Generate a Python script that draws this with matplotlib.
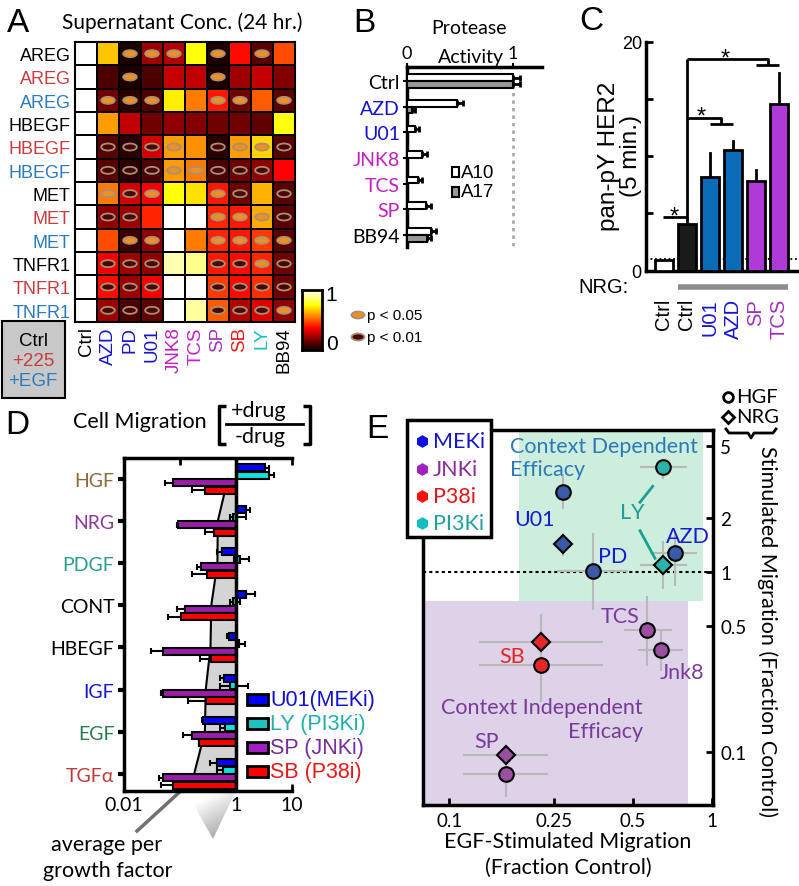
import numpy as np
import matplotlib
matplotlib.use('Agg')
import matplotlib.pyplot as plt
from matplotlib.patches import Ellipse, Rectangle, Polygon
from matplotlib.ticker import NullLocator, FixedLocator

W, H = 799, 887
ARIAL = 'Liberation Sans'
MYR = 'Lato'

# ---------------- Panel A data ----------------
A_rows = ['AREG', 'AREG', 'AREG', 'HBEGF', 'HBEGF', 'HBEGF',
          'MET', 'MET', 'MET', 'TNFR1', 'TNFR1', 'TNFR1']
A_cols = ['Ctrl', 'AZD', 'PD', 'U01', 'JNK8', 'TCS', 'SP', 'SB', 'LY', 'BB94']
A_vals = [
    [1.0, 0.66, 0.03, 0.22, 0.25, 0.75, 0.03, 0.38, 0.12, 0.48],
    [1.0, 0.10, 0.03, 0.10, 0.28, 0.27, 0.03, 0.22, 0.28, 0.18],
    [1.0, 0.15, 0.05, 0.10, 0.72, 0.55, 0.40, 0.15, 0.50, 0.12],
    [1.0, 0.60, 0.27, 0.15, 0.20, 0.18, 0.15, 0.15, 0.13, 0.76],
    [1.0, 0.12, 0.05, 0.30, 0.60, 0.58, 0.05, 0.60, 0.68, 0.12],
    [1.0, 0.12, 0.05, 0.10, 0.60, 0.55, 0.10, 0.15, 0.20, 0.37],
    [1.0, 0.55, 0.30, 0.35, 0.75, 0.70, 0.40, 0.15, 0.63, 0.12],
    [1.0, 0.20, 0.22, 0.42, 1.00, 1.00, 0.42, 0.40, 0.62, 0.12],
    [1.0, 0.48, 0.08, 0.20, 1.00, 0.55, 0.42, 0.40, 0.45, 0.12],
    [1.0, 0.35, 0.22, 0.20, 0.92, 0.88, 0.40, 0.38, 0.42, 0.15],
    [1.0, 0.38, 0.22, 0.35, 1.00, 1.00, 0.45, 0.38, 0.43, 0.15],
    [1.0, 0.22, 0.10, 0.13, 1.00, 0.90, 0.50, 0.25, 0.32, 0.20],
]
# 0: not significant, 1: p<0.05, 2: p<0.01
A_sig = [
    [0, 0, 1, 1, 1, 0, 1, 0, 1, 0],
    [0, 0, 1, 0, 0, 0, 1, 0, 0, 0],
    [0, 1, 1, 1, 0, 0, 1, 1, 0, 1],
    [0, 0, 0, 0, 0, 0, 0, 0, 0, 0],
    [0, 2, 2, 2, 1, 0, 2, 1, 1, 2],
    [0, 2, 2, 2, 1, 1, 2, 2, 2, 0],
    [0, 1, 2, 1, 0, 0, 1, 2, 0, 2],
    [0, 2, 2, 0, 0, 0, 1, 1, 1, 2],
    [0, 0, 1, 1, 0, 0, 1, 1, 1, 1],
    [0, 2, 2, 2, 0, 0, 2, 2, 1, 2],
    [0, 2, 2, 2, 0, 0, 2, 2, 2, 2],
    [0, 2, 2, 2, 0, 0, 2, 2, 2, 1],
]

# ---------------- Panel B data ----------------
B_labels = ['Ctrl', 'AZD', 'U01', 'JNK8', 'TCS', 'SP', 'BB94']
B_a10 = [1.0, 0.47, 0.08, 0.14, 0.10, 0.18, 0.23]
B_a10_err = [0.07, 0.06, 0.03, 0.05, 0.04, 0.05, 0.04]
B_a17 = [1.0, 0.05, 0.0, 0.0, 0.0, 0.0, 0.19]
B_a17_err = [0.07, 0.03, 0.0, 0.0, 0.0, 0.0, 0.04]

# ---------------- Panel C data ----------------
C_labels = ['Ctrl', 'Ctrl', 'U01', 'AZD', 'SP', 'TCS']
C_vals = [0.96, 4.1, 8.2, 10.5, 7.85, 14.6]
C_err = [0.0, 0.3, 2.1, 0.8, 0.95, 2.7]

# ---------------- Panel D data ----------------
D_gf = ['HGF', 'NRG', 'PDGF', 'CONT', 'HBEGF', 'IGF', 'EGF', 'TGFα']
D_u01 = [3.35, 1.50, 0.56, 1.50, 0.77, 0.62, 0.26, 0.457]
D_u01_lo = [3.35, 1.50, 0.457, 1.50, 0.69, 0.52, 0.246, 0.347]
D_u01_hi = [4.00, 1.76, 0.56, 2.22, 0.77, 0.62, 0.26, 0.457]
D_ly = [3.85, 0.88, 1.20, 0.90, 1.15, 0.80, 0.65, 0.60]
D_ly_lo = [3.85, 0.79, 0.94, 0.80, 1.15, 0.53, 0.52, 0.457]
D_ly_hi = [4.73, 1.55, 1.69, 1.20, 1.47, 1.67, 0.65, 0.60]
D_sp = [0.0745, 0.094, 0.24, 0.124, 0.049, 0.049, 0.163, 0.050]
D_sp_lo = [0.054, 0.090, 0.20, 0.088, 0.030, 0.045, 0.112, 0.043]
D_sb = [0.28, 0.415, 0.30, 0.105, 0.356, 0.29, 0.223, 0.0766]
D_sb_lo = [0.167, 0.28, 0.167, 0.062, 0.23, 0.142, 0.223, 0.045]

# ---------------- Panel E data ----------------
E_drugs = ['U01', 'PD', 'AZD', 'LY', 'TCS', 'Jnk8', 'SB', 'SP']
E_class = ['MEKi', 'MEKi', 'MEKi', 'PI3Ki', 'JNKi', 'JNKi', 'P38i', 'JNKi']
E_egf = [0.272, 0.352, 0.724, 0.654, 0.568, 0.639, 0.224, 0.164]
E_egf_lo = [0.272, 0.257, 0.599, 0.533, 0.463, 0.525, 0.130, 0.113]
E_egf_hi = [0.272, 0.480, 0.877, 0.803, 0.704, 0.780, 0.386, 0.238]
E_hgf = [2.76, 1.01, 1.27, 3.80, 0.476, 0.369, 0.304, 0.0751]
E_hgf_lo = [2.23, 0.61, 0.835, 3.27, 0.30, 0.281, 0.188, 0.0558]
E_hgf_hi = [3.49, 1.65, 1.69, 4.23, 0.736, 0.48, 0.55, 0.099]
E_nrg = [1.43, np.nan, np.nan, 1.094, np.nan, np.nan, 0.405, 0.0962]
E_nrg_lo = [1.23, np.nan, np.nan, 0.80, np.nan, np.nan, 0.36, 0.093]
E_nrg_hi = [1.62, np.nan, np.nan, 1.49, np.nan, np.nan, 0.58, 0.100]

# ---------------- helpers ----------------
def rect(l, t, r, b):
    return [l / W, 1 - b / H, (r - l) / W, (b - t) / H]

fig = plt.figure(figsize=(W / 100, H / 100), dpi=100)
ovb = fig.add_axes([0, 0, 1, 1], zorder=-5)
ovb.set_xlim(0, W); ovb.set_ylim(H, 0); ovb.axis('off')

BLUE = '#1414d2'
MAG = '#c020c0'
PURP = '#a030c0'
REDL = '#e81818'
CYAN = '#18c0c0'
RROW = '#c83c3c'
BROW = '#2a7abf'

# ================= Panel A =================
axA = fig.add_axes(rect(75, 43, 295, 323))
vals = np.array(A_vals)
axA.pcolormesh(np.arange(11), np.arange(13), vals, cmap='hot', vmin=0, vmax=1,
               edgecolors='black', linewidth=1.3)
axA.set_xlim(0, 10); axA.set_ylim(12, 0)
for i in range(12):
    for j in range(10):
        s = A_sig[i][j]
        if s:
            fc = '#f09020' if s == 1 else '#4a0606'
            axA.add_patch(Ellipse((j + 0.5, i + 0.5), 0.62, 0.30, fc=fc,
                                  ec='#a89078', lw=1.3))
axA.set_xticks(np.arange(10) + 0.5)
axA.set_xticklabels(A_cols, rotation=90, fontsize=13.5, family=ARIAL)
col_colors = ['black', BLUE, BLUE, BLUE, MAG, MAG, PURP, REDL, CYAN, 'black']
for lbl, c in zip(axA.get_xticklabels(), col_colors):
    lbl.set_color(c)
axA.set_yticks(np.arange(12) + 0.5)
axA.set_yticklabels(A_rows, fontsize=13, family=ARIAL)
row_colors = ['black', RROW, BROW] * 4
for lbl, c in zip(axA.get_yticklabels(), row_colors):
    lbl.set_color(c)
axA.tick_params(length=0, pad=3)
for sp in axA.spines.values():
    sp.set_linewidth(1.5)

# colorbar
cax = fig.add_axes(rect(302, 291, 322, 351))
cax.imshow(np.linspace(1, 0, 256)[:, None], aspect='auto', cmap='hot',
           extent=[0, 1, 0, 1], vmin=0, vmax=1)
cax.set_xticks([]); cax.set_yticks([])
for sp in cax.spines.values():
    sp.set_linewidth(2)

# ================= Panel B =================
axB = fig.add_axes(rect(407, 68, 541.6, 248))
yB = np.arange(len(B_labels))
off, hgt = 0.135, 0.26
axB.barh(yB - off, B_a10, height=hgt, color='white', edgecolor='black', lw=1.5, zorder=3)
axB.barh(yB + off, B_a17, height=hgt, color='#999999', edgecolor='black', lw=1.5, zorder=3)
for y, v, e in zip(yB, B_a10, B_a10_err):
    if e > 0:
        axB.errorbar(v, y - off, xerr=[[0], [e]], fmt='none', ecolor='black',
                     elinewidth=2, capsize=2.5, capthick=2, zorder=2)
for y, v, e in zip(yB, B_a17, B_a17_err):
    if e > 0:
        axB.errorbar(v, y + off, xerr=[[0], [e]], fmt='none', ecolor='black',
                     elinewidth=2, capsize=2.5, capthick=2, zorder=2)
axB.plot([1, 1], [0.15, 6.47], ls=(0, (1.2, 1.5)), color='#a8a8a8', lw=2, zorder=1)
axB.set_xlim(0, 1.27); axB.set_ylim(6.47, -0.545)
axB.xaxis.tick_top()
axB.set_xticks([0, 1]); axB.set_xticklabels(['0', '1'], fontsize=13, family=MYR)
axB.tick_params(axis='x', length=3, width=1.5, pad=1)
axB.set_yticks(yB)
axB.set_yticklabels(B_labels, fontsize=14, family=MYR)
for lbl, c in zip(axB.get_yticklabels(), ['black', BLUE, BLUE, MAG, MAG, MAG, 'black']):
    lbl.set_color(c)
axB.tick_params(axis='y', length=3, width=1.5, pad=2)
for s in ['right', 'bottom']:
    axB.spines[s].set_visible(False)
for s in ['left', 'top']:
    axB.spines[s].set_linewidth(2.5)

# ================= Panel C =================
axC = fig.add_axes(rect(646, 42.7, 796.7, 271.7))
xC = np.arange(len(C_vals))
colC = ['white', '#1a1a1a', '#0a6cb8', '#0a6cb8', '#b03ad8', '#b03ad8']
axC.bar(xC, C_vals, width=0.8, color=colC, edgecolor='black', lw=2, zorder=3)
for x, v, e in zip(xC, C_vals, C_err):
    if e > 0:
        axC.plot([x, x], [v, v + e], color='black', lw=2, zorder=2)
axC.axhline(1.0, color='black', ls=(0, (1, 1.5)), lw=1.3, zorder=1)
axC.set_xlim(-0.78, 5.77); axC.set_ylim(0, 20)
axC.set_xticks([])
axC.set_yticks([0, 5, 10, 15, 20])
axC.set_yticklabels(['0', '', '', '', '20'], fontsize=13, family=ARIAL)
axC.tick_params(axis='y', direction='in', length=5, width=2, pad=3)
for s in ['right', 'top']:
    axC.spines[s].set_visible(False)
for s in ['left', 'bottom']:
    axC.spines[s].set_linewidth(2.5)
# significance brackets
kw = dict(color='black', lw=2, clip_on=False, solid_capstyle='butt')
axC.plot([-0.03, 1.0], [4.7, 4.7], **kw)
axC.plot([1.0, 1.0], [4.4, 18.5], **kw)
axC.plot([1.0, 4.54, 4.54], [18.5, 18.5, 18.0], **kw)
axC.plot([4.0, 5.0], [18.0, 18.0], **kw)
axC.plot([1.0, 2.5, 2.5], [13.3, 13.3, 12.8], **kw)
axC.plot([2.0, 3.0], [12.8, 12.8], **kw)
for sx, sy in [(0.45, 4.17), (1.64, 12.9), (2.65, 18.0)]:
    axC.text(sx, sy, '*', ha='center', va='baseline', fontsize=17, family=ARIAL)
# NRG bar
axC.plot([0.6, 5.4], [-1.38, -1.38], color='#8c8c8c', lw=4, clip_on=False,
         solid_capstyle='butt')
for x, lab, c in zip(xC, C_labels, ['black', 'black', BLUE, BLUE, PURP, PURP]):
    axC.text(x, -2.38, lab, rotation=90, ha='center', va='top', fontsize=14.5,
             family=ARIAL, color=c, clip_on=False)

# ================= Panel D =================
axD = fig.add_axes(rect(124, 459.3, 291.7, 791.7))
axD.set_xscale('log')
yD = np.arange(len(D_gf))
avg = 10 ** np.mean(np.log10([D_u01, D_ly, D_sp, D_sb]), axis=0)
lavg = np.log10(avg)
ext = lavg[-1] + (lavg[-1] - lavg[-2]) * 0.4
ys = np.append(yD, 7.4)
xs = 10 ** np.append(lavg, ext)
axD.fill_betweenx(ys, xs, 1, color='#d4d4d4', zorder=1, lw=0)
axD.plot(xs, ys, color='black', lw=1.5, zorder=1.5)
series = [(D_u01, D_u01_lo, D_u01_hi, '#0000ff', -0.267),
          (D_ly, D_ly_lo, D_ly_hi, '#10e0e0', -0.089),
          (D_sp, D_sp_lo, D_sp, '#9a1ea8', 0.089),
          (D_sb, D_sb_lo, D_sb, '#ff0000', 0.267)]
for v, lo, hi, c, o in series:
    v = np.array(v); lo = np.array(lo); hi = np.array(hi)
    axD.errorbar(v, yD + o, xerr=[v - lo, hi - v], fmt='none', ecolor='black',
                 elinewidth=1.5, capsize=2.5, capthick=1.5, zorder=2)
    axD.barh(yD + o, v - 1, left=1, height=0.165, color=c, edgecolor='black',
             lw=1.5, zorder=3)
axD.axvline(1, color='black', lw=2.5, zorder=4)
axD.set_xlim(0.01, 10); axD.set_ylim(7.40, -0.49)
axD.xaxis.set_major_locator(FixedLocator([0.01, 0.1, 1, 10]))
axD.xaxis.set_minor_locator(NullLocator())
axD.set_xticklabels(['0.01', '', '1', '10'], fontsize=14, family=MYR)
axD.tick_params(axis='x', which='both', top=True, direction='in', length=5, width=2, pad=4)
axD.set_yticks(yD)
axD.set_yticklabels(D_gf, fontsize=14, family=MYR)
for lbl, c in zip(axD.get_yticklabels(),
                  ['#8b6a3e', '#8a3a9a', '#2a9d8f', 'black', 'black', BLUE, '#2a7a50', '#c0393b']):
    lbl.set_color(c)
axD.tick_params(axis='y', direction='out', length=4, width=3, pad=3)
axD.spines['right'].set_visible(False)
for s in ['left', 'top', 'bottom']:
    axD.spines[s].set_linewidth(2.5)

# gradient wedge (background)
gy = np.linspace(0, 1, 100)[:, None]
gx = np.linspace(0, 1, 60)[None, :]
grad = 0.55 + 0.45 * np.clip(0.8 * gy + 0.5 * (1 - gx), 0, 1)
im = ovb.imshow(grad, cmap='gray', vmin=0, vmax=1, extent=[183, 240, 792, 842],
                aspect='auto', zorder=1, origin='upper')
wedge = Polygon([(186, 792), (235.7, 792), (213, 840)], closed=True, transform=ovb.transData)
im.set_clip_path(wedge)
ovb.plot([137, 184], [832, 789], color='#707070', lw=2.5)

# ================= Panel E =================
axE = fig.add_axes(rect(423.3, 430.7, 713.3, 806))
axE.set_xscale('log'); axE.set_yscale('log')
xl, yl = (0.0796, 1.014), (0.0506, 6.15)
axE.set_xlim(*xl); axE.set_ylim(*yl)
axE.add_patch(Rectangle((0.184, 0.69), 0.929 - 0.184, yl[1] - 0.69, fc='#cdeedd', ec='none', zorder=0))
axE.add_patch(Rectangle((xl[0], yl[0]), 0.815 - xl[0], 0.69 - yl[0], fc='#ddd2e8', ec='none', zorder=0))
axE.axhline(1, color='black', ls=(0, (1.5, 1.5)), lw=1.5, zorder=1)
cls_color = {'MEKi': '#3b5ba9', 'JNKi': '#9b4f9f', 'P38i': '#e3282a', 'PI3Ki': '#2ab3a8'}
egf = np.array(E_egf); elo = np.array(E_egf_lo); ehi = np.array(E_egf_hi)
for yv, ylo, yhi, mk, ms in [(E_hgf, E_hgf_lo, E_hgf_hi, 'o', 10.5),
                             (E_nrg, E_nrg_lo, E_nrg_hi, 'D', 9)]:
    yv = np.array(yv); ylo = np.array(ylo); yhi = np.array(yhi)
    ok = ~np.isnan(yv)
    axE.errorbar(egf[ok], yv[ok], xerr=[egf[ok] - elo[ok], ehi[ok] - egf[ok]],
                 yerr=[yv[ok] - ylo[ok], yhi[ok] - yv[ok]], fmt='none',
                 ecolor='#b8b8b8', elinewidth=1.5, zorder=2)
    for k in np.where(ok)[0]:
        axE.plot(egf[k], yv[k], marker=mk, ms=ms, mfc=cls_color[E_class[k]],
                 mec='black', mew=1.5, zorder=3, ls='none')
axE.xaxis.set_major_locator(FixedLocator([0.1, 0.25, 0.5, 1]))
axE.xaxis.set_minor_locator(NullLocator())
axE.set_xticklabels(['0.1', '0.25', '0.5', '1'], fontsize=13.5, family=MYR)
axE.yaxis.set_major_locator(FixedLocator([0.1, 0.5, 1, 2, 5]))
axE.yaxis.set_minor_locator(NullLocator())
axE.set_yticklabels(['0.1', '0.5', '1', '2', '5'], fontsize=13.5, family=MYR)
axE.yaxis.tick_right()
axE.tick_params(axis='both', which='both', direction='in', length=5, width=2, pad=5)
for sp in axE.spines.values():
    sp.set_linewidth(2.5)

# ================= Front overlay (text and decorations) =================
ov = fig.add_axes([0, 0, 1, 1], zorder=10)
ov.set_xlim(0, W); ov.set_ylim(H, 0); ov.axis('off')

def T(x, y, s, size, fam=MYR, **k):
    k.setdefault('ha', 'center'); k.setdefault('va', 'center')
    ov.text(x, y, s, fontsize=size, family=fam, **k)

# panel letters
for lt, x, y in [('A', 18, 23), ('B', 364, 24), ('C', 591, 22), ('D', 17, 426), ('E', 377, 430)]:
    T(x, y, lt, 24, ARIAL)

T(182, 23, 'Supernatant Conc. (24 hr.)', 15)
# A legend box
ov.add_patch(Rectangle((2, 322), 63, 77, fc='#c8c8c8', ec='black', lw=1.5))
T(33, 342, 'Ctrl', 13.5, ARIAL, color='black')
T(33, 362, '+225', 13.5, ARIAL, color=RROW)
T(33, 382, '+EGF', 13.5, ARIAL, color=BROW)
T(331, 296, '1', 15, ARIAL)
T(332, 345, '0', 15, ARIAL)
ov.add_patch(Ellipse((358, 316), 13, 7, fc='#f09020', ec='#a89078', lw=1.3))
ov.add_patch(Ellipse((358, 338), 13, 7, fc='#4a0606', ec='#a89078', lw=1.3))
T(367, 316, 'p < 0.05', 11, ARIAL, ha='left')
T(367, 338, 'p < 0.01', 11, ARIAL, ha='left')

# B texts
T(469, 28, 'Protease', 14)
T(471, 58, 'Activity', 14)
ov.add_patch(Rectangle((452, 168), 7, 10, fc='white', ec='black', lw=1.5))
ov.add_patch(Rectangle((452, 188), 7, 10, fc='#999999', ec='black', lw=1.5))
T(461, 173, 'A10', 13.5, ARIAL, ha='left')
T(461, 193, 'A17', 13.5, ARIAL, ha='left')

# C texts
ov.text(620, 156, 'pan-pY HER2\n(5 min.)', rotation=90, ha='center', va='center',
        fontsize=17.5, family=ARIAL, linespacing=1.0, multialignment='center')
T(604, 288, 'NRG:', 14.5, ARIAL)

# D texts
T(140, 422, 'Cell Migration', 15.5)
T(259, 411, '+drug', 15.5)
T(260, 437, '-drug', 15.5)
lk = dict(color='black', lw=2.5, solid_capstyle='butt')
ov.plot([226, 219, 219, 226], [407, 407, 445, 445], **lk)
ov.plot([303, 310, 310, 303], [407, 407, 445, 445], **lk)
ov.plot([226, 303], [425, 425], color='black', lw=2)
T(107, 845, 'average per', 15.5)
T(108, 871, 'growth factor', 15.5)
for (y0, c, lab, tc) in [(695, '#0000ff', 'U01(MEKi)', '#1010d0'),
                        (719, '#20c0c0', 'LY (PI3Ki)', '#20b0a8'),
                        (743, '#a020c0', 'SP (JNKi)', '#7a2a9a'),
                        (767, '#ff0000', 'SB (P38i)', '#e81818')]:
    ov.add_patch(Rectangle((247, y0), 21, 11, fc=c, ec='black', lw=2))
    T(270, y0 + 6, lab, 15.5, ARIAL, ha='left', color=tc)

# E legend box
ov.add_patch(Rectangle((407.3, 420.7), 83.4, 117.6, fc='white', ec='black', lw=2.5))
for (y0, mc, lab, tc) in [(441.7, '#1010e0', 'MEKi', '#1515d0'),
                          (470, '#a020c0', 'JNKi', '#8a2a9a'),
                          (496.7, '#ff1010', 'P38i', '#e01515'),
                          (524, '#10c0c0', 'PI3Ki', '#20a0a0')]:
    ov.plot(421.7, y0, marker='h', ms=8, color=mc, mec=mc)
    T(433, y0, lab, 15.5, ha='left', color=tc)
# HGF / NRG marker legend
ov.plot(728, 398, marker='o', ms=7, mfc='none', mec='black', mew=2)
ov.plot(728, 418, marker='D', ms=6.5, mfc='none', mec='black', mew=2)
T(736, 398, 'HGF', 14.5, ha='left')
T(736, 418, 'NRG', 14.5, ha='left')
# brace under HGF/NRG
ov.plot([726, 729, 748, 751, 754, 773, 776], [430, 434, 434, 439, 434, 434, 430],
        color='black', lw=2)
ov.text(767, 632, 'Stimulated Migration (Fraction Control)', rotation=-90,
        ha='center', va='center', fontsize=15.5, family=MYR)
T(568, 842, 'EGF-Stimulated Migration', 15.5)
T(568, 868, '(Fraction Control)', 15.5)
# E point labels
EB = '#1a1acd'; EP = '#7a3a9a'
T(535, 520, 'U01', 15.5, color=EB)
T(613, 557, 'PD', 15.5, color=EB)
T(688, 537, 'AZD', 15.5, color=EB)
T(632, 513, 'LY', 15.5, color='#1aa090')
T(620, 617, 'TCS', 15.5, color=EP)
T(682, 673, 'Jnk8', 15.5, color=EP)
T(512, 657, 'SB', 15.5, color='#e02828')
T(487, 742, 'SP', 15.5, color=EP)
ov.plot([652.7, 640], [487.3, 503.3], color='#1aa090', lw=2)
ov.plot([640, 655], [531.7, 559.3], color='#1aa090', lw=2)
T(510, 447, 'Context Dependent', 15.5, ha='left', color='#2a7ab8')
T(510, 470, 'Efficacy', 15.5, ha='left', color='#2a7ab8')
T(643, 708, 'Context Independent', 15.5, ha='right', color=EP)
T(643, 732, 'Efficacy', 15.5, ha='right', color=EP)

fig.savefig('out.png', dpi=100)
